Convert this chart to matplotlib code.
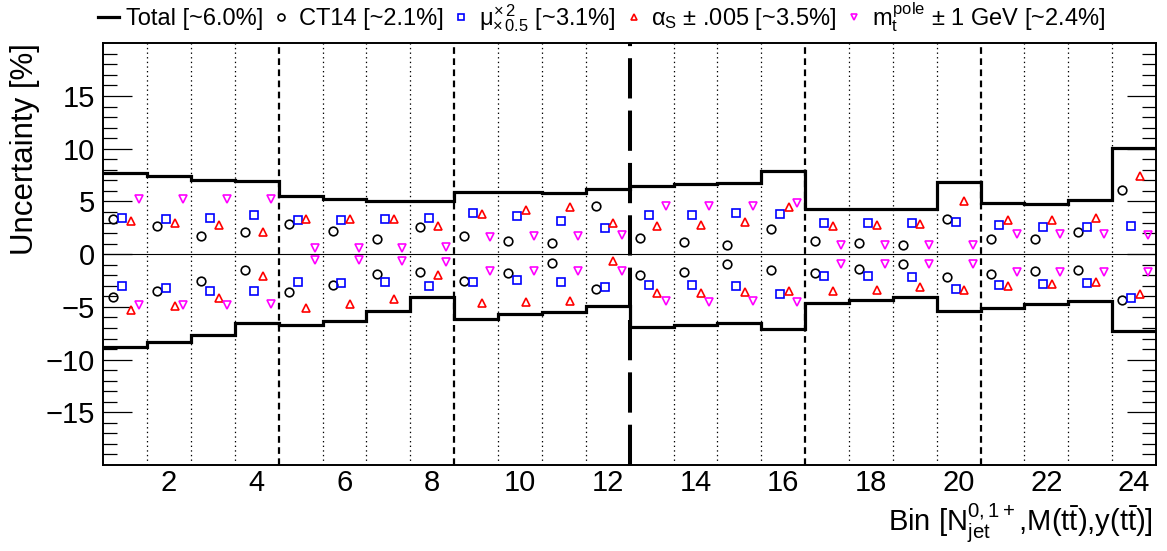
import numpy as np
from matplotlib import pyplot as plt
from matplotlib.lines import Line2D

plt.rcParams['font.family'] = ['Liberation Sans', 'DejaVu Sans']
plt.rcParams['mathtext.fontset'] = 'custom'
plt.rcParams['mathtext.rm'] = 'Liberation Sans'
plt.rcParams['mathtext.it'] = 'Liberation Sans'
plt.rcParams['mathtext.bf'] = 'Liberation Sans:bold'

# bins 1..24 of [Njet, M(tt), y(tt)]
bins = np.arange(1, 25)

total_up = [7.68, 7.42, 7.04, 6.97, 5.52, 5.2, 5.03, 5.05, 5.93, 5.87, 5.8, 6.19,
            6.5, 6.62, 6.78, 7.86, 4.28, 4.28, 4.28, 6.82, 4.83, 4.73, 5.11, 10.07]
total_dn = [-8.83, -8.33, -7.66, -6.49, -6.72, -6.34, -5.42, -4.04, -6.12, -5.71, -5.45, -4.92,
            -6.88, -6.72, -6.49, -7.1, -4.6, -4.35, -4.03, -5.36, -5.08, -4.73, -4.41, -7.32]

ct14_up = [3.31, 2.71, 1.75, 2.07, 2.84, 2.23, 1.4, 2.55, 1.73, 1.28, 1.03, 4.54,
           1.51, 1.19, 0.84, 2.39, 1.28, 1.03, 0.87, 3.31, 1.48, 1.48, 2.07, 6.06]
ct14_dn = [-4.1, -3.52, -2.51, -1.5, -3.59, -2.96, -1.88, -1.66, -2.55, -1.79, -0.87, -3.33,
           -1.97, -1.66, -0.96, -1.5, -1.82, -1.44, -0.93, -2.16, -1.91, -1.63, -1.5, -4.34]

mu_up = [3.4, 3.34, 3.47, 3.72, 3.24, 3.24, 3.37, 3.4, 3.88, 3.66, 3.18, 2.52,
         3.69, 3.69, 3.88, 3.79, 2.99, 2.99, 2.99, 3.08, 2.74, 2.55, 2.61, 2.65]
mu_dn = [-2.98, -3.21, -3.52, -3.46, -2.67, -2.77, -2.67, -2.98, -2.61, -2.48, -2.61, -3.14,
         -2.93, -2.96, -2.98, -3.75, -2.07, -2.03, -2.13, -3.33, -2.96, -2.83, -2.71, -4.13]

as_up = [3.18, 2.99, 2.8, 2.1, 3.31, 3.31, 3.37, 2.68, 3.82, 4.16, 4.48, 2.99,
         2.65, 2.74, 3.02, 4.48, 2.65, 2.77, 2.87, 5.05, 3.24, 3.24, 3.43, 7.45]
as_dn = [-5.3, -4.88, -4.13, -2.03, -5.08, -4.73, -4.25, -1.94, -4.6, -4.57, -4.41, -0.64,
         -3.71, -3.71, -3.56, -3.49, -3.49, -3.4, -3.08, -3.4, -2.98, -2.83, -2.64, -3.78]

mt_up = [5.2, 5.2, 5.2, 5.2, 0.55, 0.55, 0.61, 0.71, 1.66, 1.73, 1.73, 1.78,
         4.57, 4.57, 4.6, 4.83, 0.84, 0.87, 0.87, 0.9, 1.94, 1.88, 1.88, 1.82]
mt_dn = [-4.82, -4.82, -4.82, -4.73, -0.55, -0.55, -0.64, -0.77, -1.57, -1.57, -1.57, -1.6,
         -4.44, -4.5, -4.44, -4.54, -0.9, -0.9, -0.93, -0.9, -1.73, -1.7, -1.73, -1.7]

labels = ['Total [~6.0%]', 'CT14 [~2.1%]',
          r'$\mu^{\times\,2}_{\times\,0.5}$ [~3.1%]',
          r'$\alpha_{S}$ $\pm$ .005 [~3.5%]',
          r'$m_{t}^{pole}$ $\pm$ 1 GeV [~2.4%]']

fig = plt.figure(figsize=(11.67, 5.51), dpi=100)
ax = fig.add_axes([0.0885, 0.156, 0.9021, 0.7655])

edges = np.arange(0.5, 25.0, 1.0)
ax.stairs(total_up, edges, baseline=None, color='k', lw=2.3, zorder=4)
ax.stairs(total_dn, edges, baseline=None, color='k', lw=2.3, zorder=4)
ax.axhline(0, color='k', lw=0.8, zorder=1)

# bin separators
for b in edges[1:-1]:
    if b == 12.5:
        ax.axvline(b, color='k', lw=2.9, dashes=(10, 3), zorder=2)
    elif b in (4.5, 8.5, 16.5, 20.5):
        ax.axvline(b, color='k', lw=1.6, dashes=(3, 2), zorder=2)
    else:
        ax.axvline(b, color='k', lw=0.9, dashes=(1.1, 2.6), zorder=2)

series = [
    (ct14_up, ct14_dn, 'o', 'black', -0.27),
    (mu_up, mu_dn, 's', 'blue', -0.07),
    (as_up, as_dn, '^', 'red', 0.13),
    (mt_up, mt_dn, 'v', 'magenta', 0.32),
]
for up, dn, m, c, off in series:
    for vals in (up, dn):
        ax.plot(bins + off, vals, ls='none', marker=m, ms=6.2, mfc='none',
                mec=c, mew=1.2, zorder=5)

ax.set_xlim(0.5, 24.5)
ax.set_ylim(-20, 20)
ax.set_xticks(np.arange(2, 25, 2))
ax.tick_params(axis='x', length=0, labelsize=21, pad=3)
ax.set_yticks(np.arange(-15, 16, 5))
ax.set_yticks(np.arange(-19, 20, 1), minor=True)
ax.tick_params(axis='y', which='major', direction='in', length=21, width=0.9,
               labelsize=21, right=True, pad=6)
ax.tick_params(axis='y', which='minor', direction='in', length=10, width=0.9, right=True)
for s in ax.spines.values():
    s.set_linewidth(1.4)

ax.set_ylabel('Uncertainty [%]', fontsize=22.5, loc='top', labelpad=4)
fig.text(1153 / 1167, 1 - 531 / 551,
         r'Bin [N$_{jet}^{0,1+}$,M(t$\bar{t}$),y(t$\bar{t}$)]',
         ha='right', va='baseline', fontsize=21)

handles = [
    Line2D([], [], color='k', lw=2.3),
    Line2D([], [], ls='none', marker='o', ms=5, mfc='none', mec='black', mew=1.2),
    Line2D([], [], ls='none', marker='s', ms=5, mfc='none', mec='blue', mew=1.2),
    Line2D([], [], ls='none', marker='^', ms=5, mfc='none', mec='red', mew=1.2),
    Line2D([], [], ls='none', marker='v', ms=5, mfc='none', mec='magenta', mew=1.2),
]
fig.legend(handles, labels, ncol=5, loc='upper left', bbox_to_anchor=(98 / 1167, 1.0),
           frameon=False, fontsize=17, handlelength=0.9, handletextpad=0.3,
           columnspacing=0.3, borderpad=0, borderaxespad=0)

fig.savefig('out.png', dpi=100)
